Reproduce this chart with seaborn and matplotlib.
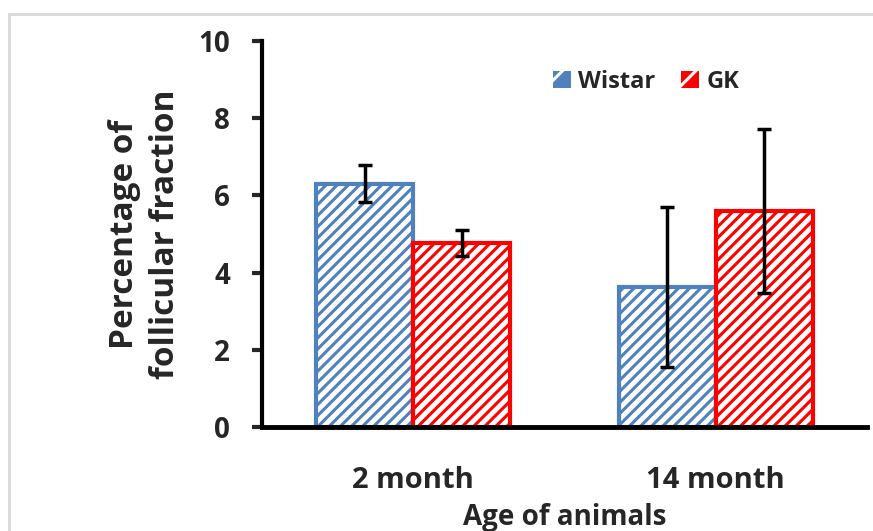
import pandas as pd
import matplotlib.pyplot as plt
import matplotlib.patches as mpatches
import seaborn as sns

# Data
ages = ['2 month', '14 month']
groups = ['Wistar', 'GK']
wistar_means = [6.30, 3.63]
gk_means = [4.77, 5.60]
wistar_err = [0.48, 2.07]
gk_err = [0.33, 2.12]

colors = {'Wistar': '#4F81BD', 'GK': '#FF0000'}

df = pd.DataFrame({
    'age': ages * 2,
    'group': ['Wistar'] * 2 + ['GK'] * 2,
    'value': wistar_means + gk_means,
    'err': wistar_err + gk_err,
})

sns.set_theme(style='white')
plt.rcParams['font.family'] = ['Open Sans', 'DejaVu Sans']
plt.rcParams['hatch.linewidth'] = 2.2

fig = plt.figure(figsize=(8.73, 5.31), dpi=100)
ax = fig.add_axes([262 / 873, 104 / 531, 605 / 873, 386 / 531])

sns.barplot(data=df, x='age', y='value', hue='group', order=ages,
            hue_order=groups, palette=colors, width=0.64, ax=ax,
            errorbar=None, legend=False)

# hatched white bars with coloured outlines, plus error bars
for container, g in zip(ax.containers, groups):
    errs = df[df.group == g].set_index('age').loc[ages, 'err'].values
    for bar, e in zip(container, errs):
        c = colors[g]
        bar.set_facecolor('white')
        bar.set_edgecolor(c)
        bar.set_hatch('///')
        bar.set_linewidth(3)
        ax.errorbar(bar.get_x() + bar.get_width() / 2, bar.get_height(), yerr=e,
                    fmt='none', ecolor='black', elinewidth=2.5, capsize=5,
                    capthick=2.5, zorder=5)

ax.set_ylim(0, 10)
ax.set_yticks([0, 2, 4, 6, 8, 10])
ax.set_xlim(-0.5, 1.5)
for s in ['top', 'right']:
    ax.spines[s].set_visible(False)
ax.spines['left'].set_linewidth(3)
ax.spines['bottom'].set_linewidth(3.5)
ax.spines['left'].set_color('black')
ax.spines['bottom'].set_color('black')
ax.tick_params(axis='y', length=7, width=3, left=True, labelsize=20, pad=16)
ax.tick_params(axis='x', length=0, labelsize=21, pad=28)
for lbl in ax.get_xticklabels() + ax.get_yticklabels():
    lbl.set_fontweight('bold')

ax.set_ylabel('Percentage of\nfollicular fraction', fontsize=24,
              fontweight='bold', linespacing=1.3, labelpad=12)
ax.set_xlabel('Age of animals', fontsize=20, fontweight='bold', labelpad=6)

handles = [mpatches.Patch(facecolor=colors[g], edgecolor='white', hatch='/',
                          linewidth=0, label=g) for g in groups]
ax.legend(handles=handles, loc='upper center', bbox_to_anchor=(0.635, 0.98),
          ncol=2, frameon=False, prop={'weight': 'bold', 'size': 17},
          handlelength=0.75, handleheight=0.75, handletextpad=0.3, columnspacing=1.1)

# light grey chart border
fig.patches.append(mpatches.Rectangle((9 / 873, -0.1), 1.1, 0.1 + (531 - 14) / 531,
                                      transform=fig.transFigure, fill=False,
                                      edgecolor='#d9d9d9', linewidth=2))

fig.savefig('out.png', dpi=100)
